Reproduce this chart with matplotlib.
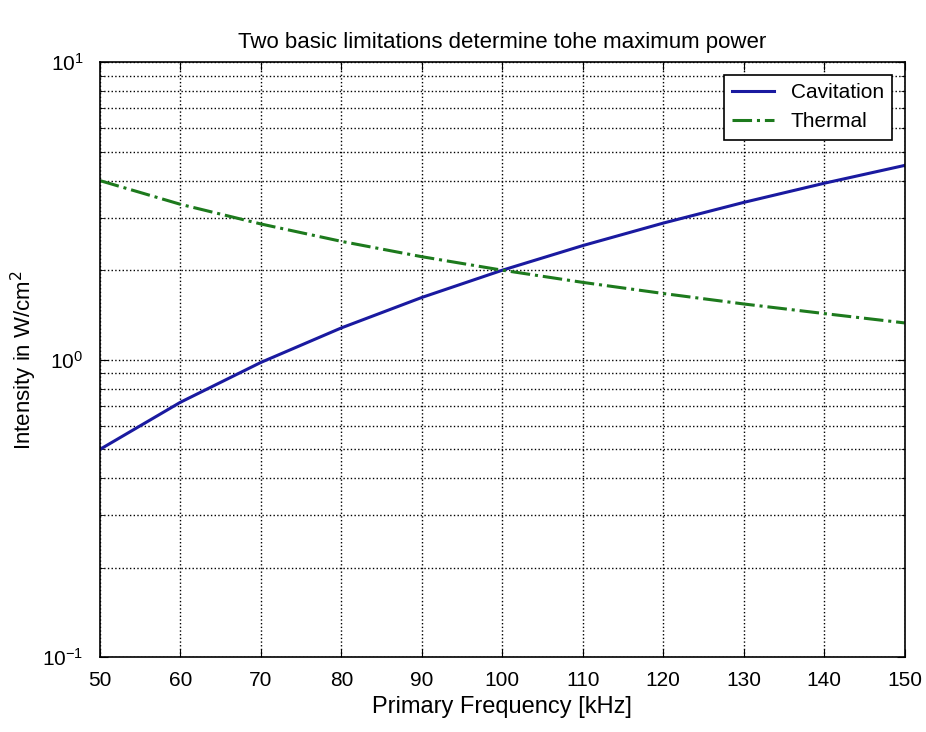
import matplotlib
matplotlib.use("Agg")
import matplotlib.pyplot as plt
from matplotlib.ticker import LogLocator, NullFormatter

# values
freq = [50, 60, 70, 80, 90, 100, 110, 120, 130, 140, 150]
cavitation = [0.50, 0.72, 0.98, 1.28, 1.62, 2.00, 2.42, 2.88, 3.38, 3.92, 4.50]
thermal = [4.00, 3.33, 2.86, 2.50, 2.22, 2.00, 1.82, 1.67, 1.54, 1.43, 1.33]
xticks = [50, 60, 70, 80, 90, 100, 110, 120, 130, 140, 150]

plt.rcParams['font.family'] = ['Liberation Sans Narrow', 'Liberation Sans', 'DejaVu Sans']

fig = plt.figure(figsize=(9.26, 7.32), dpi=100)
ax = fig.add_axes([0.108, 0.102, 0.869, 0.813])

ax.plot(freq, cavitation, color='#1a1aa0', lw=2.2, label='Cavitation')
ax.plot(freq, thermal, color='#1d7a1d', lw=2.2, ls='-.', label='Thermal')

ax.set_yscale('log')
ax.set_xlim(50, 150)
ax.set_ylim(0.1, 10)
ax.set_xticks(xticks)
ax.yaxis.set_minor_locator(LogLocator(base=10, subs=range(2, 10)))
ax.yaxis.set_minor_formatter(NullFormatter())

ax.grid(True, which='major', axis='both', color='black', ls=':', lw=1)
ax.grid(True, which='minor', axis='y', color='black', ls=':', lw=1)
ax.tick_params(which='both', direction='in', top=True, right=True, labelsize=15)
ax.tick_params(which='major', length=6)
ax.tick_params(which='minor', length=3)
ax.tick_params(axis='x', pad=10)
ax.tick_params(axis='y', pad=12)
for s in ax.spines.values():
    s.set_linewidth(1.2)

ax.set_title('Two basic limitations determine tohe maximum power', fontsize=16, pad=10)
ax.set_xlabel('Primary Frequency [kHz]', fontsize=17, labelpad=4)
ax.set_ylabel('Intensity in W/cm$^2$', fontsize=16, labelpad=2)

leg = ax.legend(loc='upper right', fontsize=15, fancybox=False, framealpha=1,
                edgecolor='black', borderaxespad=0.6)
leg.get_frame().set_linewidth(1.2)

fig.savefig('out.png', dpi=100)
